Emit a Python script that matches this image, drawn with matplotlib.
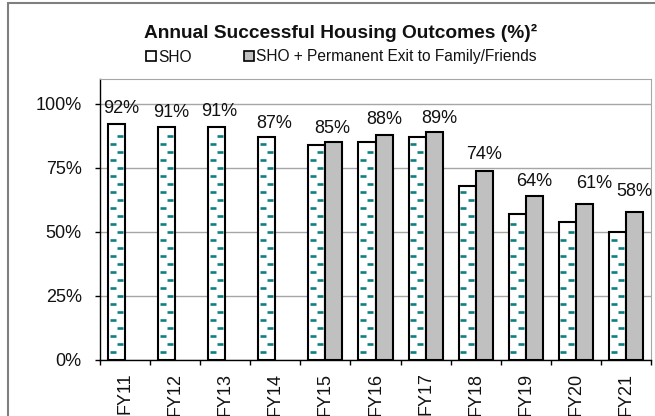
import numpy as np
import matplotlib.pyplot as plt
from matplotlib.patches import Patch, Rectangle

# data
years = ['FY11', 'FY12', 'FY13', 'FY14', 'FY15', 'FY16', 'FY17', 'FY18', 'FY19', 'FY20', 'FY21']
sho = [0.92, 0.91, 0.91, 0.87, 0.84, 0.85, 0.87, 0.68, 0.57, 0.54, 0.50]
sho_family = [np.nan, np.nan, np.nan, np.nan, 0.85, 0.88, 0.89, 0.74, 0.64, 0.61, 0.58]
y_ticks = [0, 0.25, 0.5, 0.75, 1.0]
y_tick_labels = ['0%', '25%', '50%', '75%', '100%']

# small nudges of the value labels (pixels), as placed in the original
label_dx = [4.5, 5, 2.5, 7, -2, 0, 5, 0, 0, 10, 0]
label_dy = [16, 15, 16, 14, 14, 15, 14, 16, 15, 20, 20]

TEAL = '#0e8080'
GRAY = '#c0c0c0'
TXT = '#111111'
NUM_FONT = ['Liberation Sans', 'DejaVu Sans']
HEAD_FONT = ['Liberation Sans', 'DejaVu Sans']

W, H = 655, 416
fig = plt.figure(figsize=(W / 100, H / 100), dpi=100)
ax = fig.add_axes([100 / W, 1 - 360 / H, 551 / W, 281 / H])

x = np.arange(len(years))
bw = 0.34
ymax = 281 / 256  # 25% == 64 px

ax.bar(x - bw / 2, sho, bw, color='white', edgecolor='black', linewidth=1.5, zorder=2)
ax.bar(x + bw / 2, sho_family, bw, color=GRAY, edgecolor='black', linewidth=1.5, zorder=2)

# dashed pattern inside the SHO bars (8 px rows, alternating left/right)
step = 8 / 256
for xi, v in zip(x, sho):
    rows = np.arange(8.3 / 256, v - 4 / 256, step)
    left = xi - bw + 0.27 * bw
    right = xi - bw + 0.70 * bw
    xs = np.where(np.arange(len(rows)) % 2 == 0, left, right)
    ax.plot(xs, rows, ls='none', marker='_', ms=4.6, mew=1.9, color=TEAL, zorder=3)

# value labels on top of the tallest bar of each year
for i, xi in enumerate(x):
    if np.isnan(sho_family[i]):
        top, bx = sho[i], xi - bw / 2
    else:
        top, bx = sho_family[i], xi + bw / 2
    ax.annotate(f'{round(top * 100)}%', (bx, top),
                xytext=(label_dx[i] * 0.72, label_dy[i] * 0.72), textcoords='offset points',
                ha='center', va='center', fontsize=13, color=TXT, family=NUM_FONT, zorder=4)

ax.set_xlim(-0.5, len(years) - 0.5)
ax.set_ylim(0, ymax)
ax.set_yticks(y_ticks)
ax.set_yticklabels(y_tick_labels, family=NUM_FONT, fontsize=13, color=TXT)
ax.yaxis.grid(True, color='#a6a6a6', linewidth=1.0, zorder=0)
ax.set_axisbelow(True)
ax.tick_params(axis='y', length=5 * 0.72, width=1.0, pad=9.5, color='black')

ax.set_xticks(np.arange(-0.5, len(years), 1))
ax.set_xticklabels([])
ax.set_xticks(x, minor=True)
ax.set_xticklabels(years, minor=True, rotation=90, family=NUM_FONT, fontsize=13, color=TXT)
ax.tick_params(axis='x', which='major', length=5 * 0.72, width=1.0, color='black')
ax.tick_params(axis='x', which='minor', length=0, pad=9.0)

ax.spines['left'].set_color('black')
ax.spines['bottom'].set_color('black')
ax.spines['left'].set_linewidth(1.0)
ax.spines['bottom'].set_linewidth(1.0)
ax.spines['top'].set_color('#a6a6a6')
ax.spines['right'].set_color('#a6a6a6')

fig.text(341 / W, 1 - 33 / H, 'Annual Successful Housing Outcomes (%)²', ha='center', va='center',
         fontsize=13.8, fontweight='bold', family=HEAD_FONT, color=TXT)

handles = [Patch(facecolor='white', edgecolor='black', linewidth=1.2),
           Patch(facecolor=GRAY, edgecolor='black', linewidth=1.2)]
fig.legend(handles, ['SHO', 'SHO + Permanent Exit to Family/Friends'], ncol=2,
           loc='center left', bbox_to_anchor=(146 / W, 1 - 57 / H), frameon=False,
           borderpad=0, borderaxespad=0,
           handlelength=0.65, handleheight=0.65, handletextpad=0.12, columnspacing=3.4,
           prop={'family': HEAD_FONT, 'size': 11.2}, labelcolor=TXT)

# outer chart border (only left and top edges fall inside the picture)
fig.patches.append(Rectangle((8 / W, -0.1), 1.2, 1 - 3 / H + 0.1, transform=fig.transFigure,
                             fill=False, edgecolor='#7f7f7f', linewidth=1.5))

fig.savefig('out.png', dpi=100)
